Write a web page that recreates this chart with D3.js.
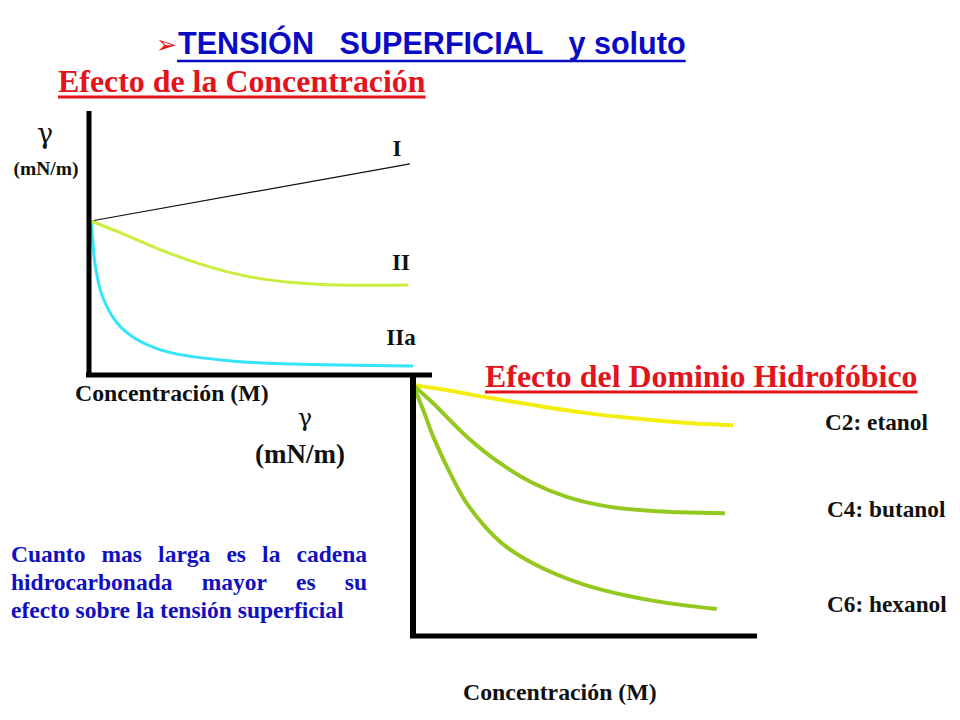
<!DOCTYPE html>
<html>
<head>
<meta charset="utf-8">
<script src="https://cdn.jsdelivr.net/npm/d3@7"></script>
<style>
  body { margin: 0; background: #fff; }
  svg { display: block; }
</style>
</head>
<body>
<script>
// --- data: concentration (arbitrary units) vs surface tension gamma ---
const concI = [0, 10];
const gammaI = [70, 96];
const concII = [0, 1.1, 2.2, 3.2, 4.25, 5.3, 6.3, 7.4, 9.95];
const gammaII = [70, 63.6, 56.8, 51.5, 47, 43.8, 42, 41, 40.9];
const concIIa = [0, 0.05, 0.13, 0.35, 0.8, 1.4, 2.4, 4.3, 6.3, 10.1];
const gammaIIa = [70, 62, 50, 36, 24, 16.5, 10.5, 6.5, 5, 4.1];

const concC2 = [0, 1.16, 2.2, 3.76, 5.32, 6.88, 8.45, 10];
const gammaC2 = [70, 68.4, 66.7, 64.4, 62.3, 60.7, 59.5, 58.8];
const concC4 = [0, 0.63, 1.68, 2.72, 3.76, 4.8, 5.84, 7.4, 9.75];
const gammaC4 = [70, 64.9, 55.6, 48.2, 42.6, 38.8, 36.5, 34.9, 34.2];
const concC6 = [0, 0.32, 0.63, 1.16, 1.68, 2.72, 3.76, 5.32, 7.4, 9.49];
const gammaC6 = [70, 63, 55.6, 45.4, 37, 26.3, 20.2, 14.4, 10, 7.5];

const seriesNames1 = ['I', 'II', 'IIa'];
const seriesNames2 = ['C2: etanol', 'C4: butanol', 'C6: hexanol'];
const noteLines = [
  'Cuanto mas larga es la cadena',
  'hidrocarbonada mayor es su',
  'efecto sobre la tensión superficial'
];

const w = 960,
  h = 720;
const serif = '"Liberation Serif", "Times New Roman", serif';
const sans = '"Liberation Sans", Arial, sans-serif';
const greek = '"DejaVu Serif", serif';

const svg = d3
  .select('body')
  .append('svg')
  .attr('width', w)
  .attr('height', h);

const zip = (xs, ys) => xs.map((x, i) => [x, ys[i]]);

// --- title ---
svg
  .append('text')
  .attr('x', 177)
  .attr('y', 53)
  .attr('text-anchor', 'end')
  .attr('font-family', '"DejaVu Sans", sans-serif')
  .attr('font-size', 25)
  .attr('fill', '#e8141c')
  .text('➢');

const title = svg
  .append('text')
  .attr('x', 178)
  .attr('y', 54)
  .attr('xml:space', 'preserve')
  .attr('font-family', sans)
  .attr('font-weight', 'bold')
  .attr('font-size', 30.6)
  .attr('fill', '#0a0ac4')
  .text('TENSIÓN   SUPERFICIAL   y soluto');
const titleLen = title.node().getComputedTextLength();
svg
  .append('line')
  .attr('x1', 177)
  .attr('x2', 178 + titleLen)
  .attr('y1', 61)
  .attr('y2', 61)
  .attr('stroke', '#0a0ac4')
  .attr('stroke-width', 2.5);

function heading(x, y, txt) {
  const t = svg
    .append('text')
    .attr('x', x)
    .attr('y', y)
    .attr('font-family', serif)
    .attr('font-weight', 'bold')
    .attr('font-size', 31.9)
    .attr('fill', '#e3141b')
    .text(txt);
  const len = t.node().getComputedTextLength();
  svg
    .append('line')
    .attr('x1', x)
    .attr('x2', x + len)
    .attr('y1', y + 5)
    .attr('y2', y + 5)
    .attr('stroke', '#e3141b')
    .attr('stroke-width', 3);
}

heading(58, 92, 'Efecto de la Concentración');
heading(485, 387, 'Efecto del Dominio Hidrofóbico');

// --- chart 1: effect of concentration ---
const x1 = d3.scaleLinear().domain([0, 10]).range([91, 410]);
const y1 = d3.scaleLinear().domain([0, 120]).range([375, 111]);

const line1 = d3
  .line()
  .x(d => x1(d[0]))
  .y(d => y1(d[1]))
  .curve(d3.curveCatmullRom.alpha(0.5));

const chart1 = [
  { name: 'I', data: zip(concI, gammaI), color: '#111', width: 1.2 },
  { name: 'IIa', data: zip(concIIa, gammaIIa), color: '#33e4fb', width: 3 },
  { name: 'II', data: zip(concII, gammaII), color: '#c9ee3e', width: 3 }
];

svg
  .selectAll('path.c1')
  .data(chart1)
  .enter()
  .append('path')
  .attr('class', 'c1')
  .attr('fill', 'none')
  .attr('stroke', d => d.color)
  .attr('stroke-width', d => d.width)
  .attr('d', d => line1(d.data));

// axes of chart 1
svg
  .append('line')
  .attr('x1', 89)
  .attr('x2', 89)
  .attr('y1', 111)
  .attr('y2', 377)
  .attr('stroke', '#000')
  .attr('stroke-width', 5);
svg
  .append('line')
  .attr('x1', 86)
  .attr('x2', 432)
  .attr('y1', 375)
  .attr('y2', 375)
  .attr('stroke', '#000')
  .attr('stroke-width', 5);

// series labels chart 1
const labelPos1 = [
  [397, 156],
  [401, 270],
  [401, 345]
];
svg
  .selectAll('text.l1')
  .data(seriesNames1)
  .enter()
  .append('text')
  .attr('class', 'l1')
  .attr('x', (d, i) => labelPos1[i][0])
  .attr('y', (d, i) => labelPos1[i][1])
  .attr('text-anchor', 'middle')
  .attr('font-family', serif)
  .attr('font-weight', 'bold')
  .attr('font-size', 23)
  .attr('fill', '#111')
  .text(d => d);

function label(x, y, size, txt, anchor, family, weight) {
  svg
    .append('text')
    .attr('x', x)
    .attr('y', y)
    .attr('text-anchor', anchor || 'start')
    .attr('font-family', family || serif)
    .attr('font-weight', weight || 'bold')
    .attr('font-size', size)
    .attr('fill', '#111')
    .text(txt);
}

label(45, 143, 27, 'γ', 'middle', greek, 'normal');
label(46, 175, 19.5, '(mN/m)', 'middle');
label(75, 401, 23.8, 'Concentración (M)');

// --- chart 2: hydrophobic domain ---
const x2 = d3.scaleLinear().domain([0, 10]).range([413, 733]);
const y2 = d3.scaleLinear().domain([0, 70]).range([636, 385]);

const line2 = d3
  .line()
  .x(d => x2(d[0]))
  .y(d => y2(d[1]))
  .curve(d3.curveCatmullRom.alpha(0.5));

const chart2 = [
  { name: 'C2', data: zip(concC2, gammaC2), color: '#f4ee10' },
  { name: 'C4', data: zip(concC4, gammaC4), color: '#93c91f' },
  { name: 'C6', data: zip(concC6, gammaC6), color: '#93c91f' }
];

svg
  .selectAll('path.c2')
  .data(chart2)
  .enter()
  .append('path')
  .attr('class', 'c2')
  .attr('fill', 'none')
  .attr('stroke', d => d.color)
  .attr('stroke-width', 4)
  .attr('d', d => line2(d.data));

svg
  .append('line')
  .attr('x1', 413)
  .attr('x2', 413)
  .attr('y1', 374)
  .attr('y2', 638)
  .attr('stroke', '#000')
  .attr('stroke-width', 6);
svg
  .append('line')
  .attr('x1', 410)
  .attr('x2', 757)
  .attr('y1', 636)
  .attr('y2', 636)
  .attr('stroke', '#000')
  .attr('stroke-width', 5);

const labelPos2 = [
  [825, 430],
  [827, 517],
  [827, 612]
];
svg
  .selectAll('text.l2')
  .data(seriesNames2)
  .enter()
  .append('text')
  .attr('class', 'l2')
  .attr('x', (d, i) => labelPos2[i][0])
  .attr('y', (d, i) => labelPos2[i][1])
  .attr('font-family', serif)
  .attr('font-weight', 'bold')
  .attr('font-size', 23.3)
  .attr('fill', '#111')
  .text(d => d);

label(305, 426, 24, 'γ', 'middle', greek, 'normal');
label(300, 463, 27, '(mN/m)', 'middle');
label(463, 700, 23.8, 'Concentración (M)');

// --- justified note in blue ---
const noteLeft = 11,
  noteRight = 367;
noteLines.forEach((ln, li) => {
  const words = ln.split(' ');
  const y = 562 + li * 28;
  const g = svg.append('g');
  const nodes = words.map(wd =>
    g
      .append('text')
      .attr('y', y)
      .attr('font-family', serif)
      .attr('font-weight', 'bold')
      .attr('font-size', 23.5)
      .attr('fill', '#1010c0')
      .text(wd)
  );
  const widths = nodes.map(n => n.node().getComputedTextLength());
  const total = d3.sum(widths);
  const last = li === noteLines.length - 1;
  const gap = last ? 5.9 : (noteRight - noteLeft - total) / (words.length - 1);
  let cx = noteLeft;
  nodes.forEach((n, i) => {
    n.attr('x', cx);
    cx += widths[i] + gap;
  });
});
</script>
</body>
</html>
